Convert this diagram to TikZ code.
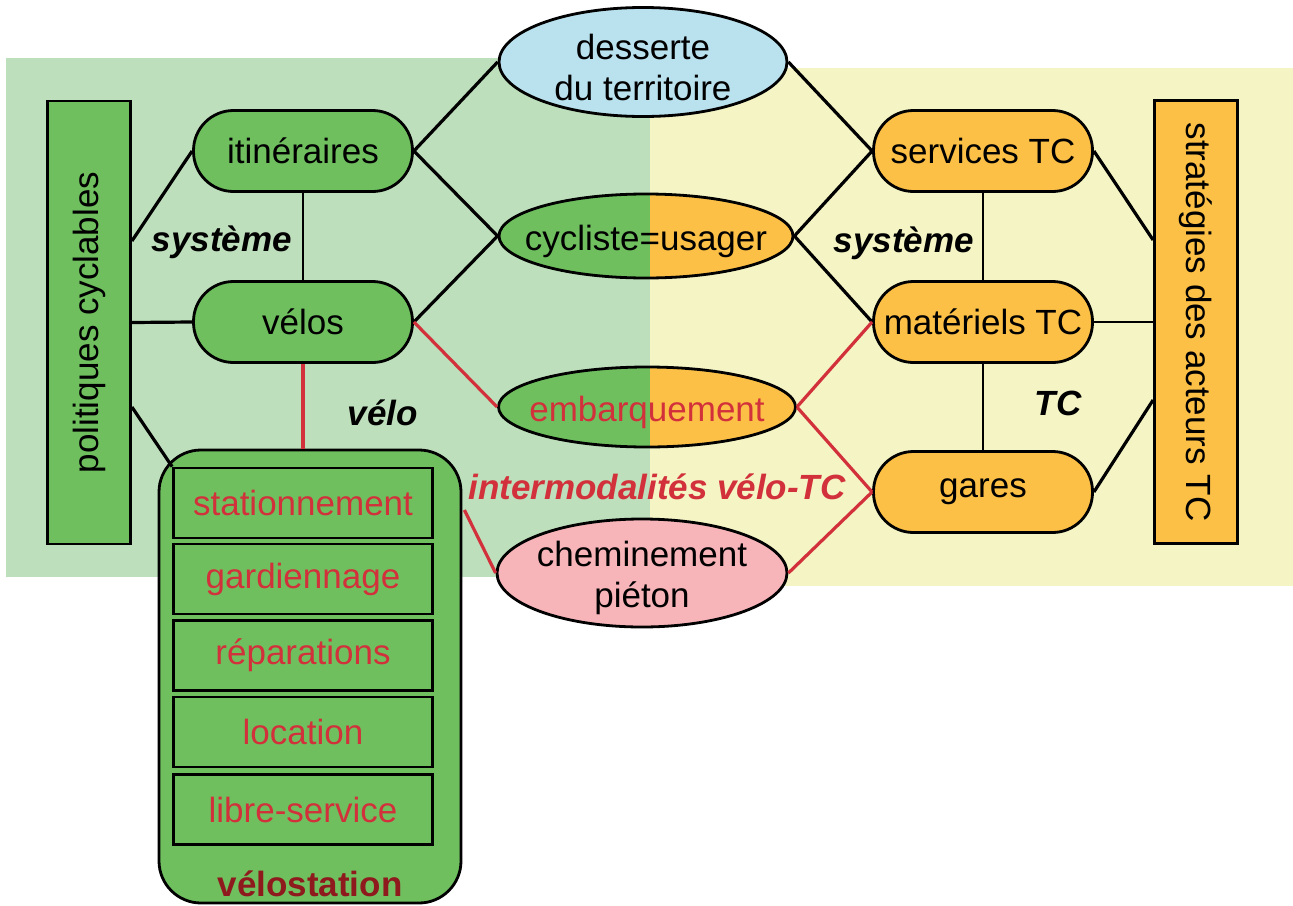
\documentclass[tikz,border=0pt]{standalone}
\usepackage{fontspec}
\setmainfont{Liberation Sans}
\usetikzlibrary{shapes.geometric,calc}
\definecolor{bggreen}{HTML}{BEDFBB}
\definecolor{bgyellow}{HTML}{F4F4C5}
\definecolor{ngreen}{HTML}{6FBF5F}
\definecolor{norange}{HTML}{FCC046}
\definecolor{nblue}{HTML}{BAE2EE}
\definecolor{npink}{HTML}{F7B4B9}
\definecolor{tred}{HTML}{D2313B}
\definecolor{dred}{HTML}{8E1A1E}
\tikzset{
  stadium/.style={draw, line width=2.8pt, rounded corners=40pt, minimum width=219pt, minimum height=81pt, inner sep=0pt},
  oval/.style={draw, ellipse, line width=2.8pt, inner sep=0pt},
  ovaltext/.style={label={[align=center, inner sep=0pt, yshift=-5pt]center:#1}},
  sidebox/.style={draw, line width=2.8pt, minimum width=83pt, minimum height=443pt, inner sep=0pt},
  subbox/.style={draw, line width=2.8pt, minimum width=259pt, minimum height=70pt, inner sep=0pt, text=tred},
  conn/.style={line width=3.2pt, black},
  thinconn/.style={line width=2.2pt, black},
  redconn/.style={line width=3.2pt, tred},
  lbl/.style={font=\fontsize{35}{41}\selectfont\bfseries\itshape},
  splitfill/.style={path picture={
      \fill[ngreen] (path picture bounding box.north west) rectangle ([xshift=#1]path picture bounding box.south);
      \fill[norange] ([xshift=#1]path picture bounding box.north) rectangle (path picture bounding box.south east);}},
}
\begin{document}
\begin{tikzpicture}[x=1pt,y=-1pt,font=\fontsize{35}{41}\selectfont]
\useasboundingbox (0,0) rectangle (1293,905);
% backgrounds
\fill[bggreen] (6,58) rectangle (650,577);
\fill[bgyellow] (650,68) rectangle (1293,586);

% side boxes
\node[sidebox, fill=ngreen] (pol) at (89,322.5) {\rotatebox{90}{politiques cyclables}};
\node[sidebox, fill=norange] (strat) at (1196,322) {\rotatebox{-90}{stratégies des acteurs TC}};

% stadium nodes
\node[stadium, fill=ngreen] (itin) at (303,151) {itinéraires};
\node[stadium, fill=ngreen] (velos) at (303,322) {vélos};
\node[stadium, fill=norange] (serv) at (983,151) {services TC};
\node[stadium, fill=norange] (mat) at (983,322) {matériels TC};
\node[stadium, fill=norange] (gares) at (983,492) {gares};

% ovals
\node[oval, fill=nblue, minimum width=288pt, minimum height=109pt, ovaltext={desserte\\du territoire}] (dess) at (643,62) {};
\node[oval, splitfill=4pt, minimum width=294pt, minimum height=84pt, ovaltext={cycliste=usager}] (cycl) at (646,236) {};
\node[oval, splitfill=3pt, minimum width=297pt, minimum height=80pt, ovaltext={\textcolor{tred}{embarquement}}] (emb) at (647,407) {};
\node[oval, fill=npink, minimum width=290pt, minimum height=108pt, ovaltext={cheminement\\piéton}] (chem) at (642,573) {};

% velostation
\node[draw, line width=2.8pt, fill=ngreen, rounded corners=42pt, minimum width=302pt, minimum height=453pt] (vst) at (310,676.5) {};
\node[subbox] (b1) at (303,503) {stationnement};
\node[subbox] (b2) at (303,579) {gardiennage};
\node[subbox] (b3) at (303,655.5) {réparations};
\node[subbox] (b4) at (303,732) {location};
\node[subbox] (b5) at (303,809.5) {libre-service};
\node[text=dred, font=\fontsize{35}{41}\selectfont\bfseries] (vstlbl) at (310,884) {vélostation};

% black connectors
\draw[conn] ([yshift=81.5pt]pol.east) -- (itin.west);
\draw[conn] (pol.east) -- (velos.west);
\draw[conn] ([yshift=-84.5pt]pol.east) -- (b1.north west);
\draw[thinconn] (itin.south) -- (velos.north);
\draw[conn] (itin.east) -- (dess.west);
\draw[conn] (itin.east) -- (cycl.west);
\draw[conn] (velos.east) -- (cycl.west);
\draw[conn] (dess.east) -- (serv.west);
\draw[conn] (cycl.east) -- (serv.west);
\draw[conn] (cycl.east) -- (mat.west);
\draw[thinconn] (serv.south) -- (mat.north);
\draw[thinconn] (mat.south) -- (gares.north);
\draw[conn] (serv.east) -- ([yshift=82pt]strat.west);
\draw[thinconn] (mat.east) -- (strat.west);
\draw[conn] (gares.east) -- ([yshift=-78pt]strat.west);

% red connectors
\draw[redconn] (velos.south) -- (velos.south |- vst.north);
\draw[redconn] (velos.east) -- (emb.west);
\draw[redconn] (emb.east) -- (mat.west);
\draw[redconn] (emb.east) -- (gares.west);
\draw[redconn] (chem.east) -- (gares.west);
\draw[redconn] ([yshift=166.5pt,xshift=2pt]vst.east) -- (chem.west);

% labels
\node[lbl] (sys1) at (222,242) {système};
\node[lbl] (sys2) at (904,243) {système};
\node[lbl] (velo) at (383,413) {vélo};
\node[lbl] (tc) at (1058,403) {TC};
\node[lbl, text=tred] (inter) at (657,487) {intermodalités vélo-TC};
\end{tikzpicture}
\end{document}
